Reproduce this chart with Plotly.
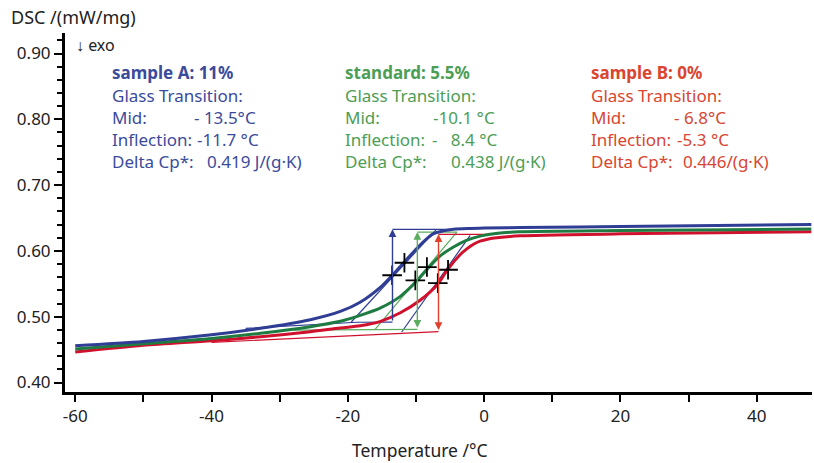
import plotly.graph_objects as go

# ---------------- data ----------------
temp_A = [-60, -50, -40, -32.8, -25.5, -21.1, -18.2, -15.2, -13.5, -11.3, -9.4, -7.5, -6.0, -4.5, -2.0, 0, 5.3, 20, 48]
dsc_A = [0.456, 0.4625, 0.4725, 0.4824, 0.4955, 0.508, 0.522, 0.545, 0.563, 0.588, 0.609, 0.626, 0.6305, 0.633, 0.6342, 0.6348, 0.6355, 0.637, 0.640]

temp_S = [-60, -50, -40, -32.8, -25.5, -21.1, -18.2, -15.2, -12.3, -9.8, -8.3, -6.45, -4.5, -2.6, -0.6, 2.0, 5.3, 20, 48]
dsc_S = [0.451, 0.459, 0.467, 0.4748, 0.4848, 0.493, 0.502, 0.5135, 0.531, 0.5553, 0.573, 0.5925, 0.606, 0.616, 0.6225, 0.627, 0.629, 0.631, 0.6333]

temp_B = [-60, -50, -40, -32.8, -25.5, -21.1, -18.2, -15.2, -12.3, -9.4, -6.7, -5.4, -3.5, -2.5, -1.5, -0.5, 0.5, 1.5, 3.0, 5.3, 20, 48]
dsc_B = [0.4464, 0.4565, 0.4635, 0.4696, 0.4772, 0.483, 0.4862, 0.493, 0.506, 0.525, 0.551, 0.5714, 0.5945, 0.6035, 0.6105, 0.6152, 0.6178, 0.6195, 0.6212, 0.623, 0.626, 0.629]

# characteristic points (mid, inflection)
mark_T_A = [-13.5, -11.7]
mark_v_A = [0.563, 0.582]
mark_T_S = [-10.1, -8.4]
mark_v_S = [0.5553, 0.5755]
mark_T_B = [-6.8, -5.3]
mark_v_B = [0.551, 0.5714]

# evaluation construction lines
A_upper_T = [-13.45, -3.0]
A_upper_v = [0.6328, 0.6328]
A_lower_T = [-35.0, -18.7, -13.45]
A_lower_v = [0.4824, 0.4916, 0.4919]
A_tan_T = [-19.5, -7.0]
A_tan_v = [0.492, 0.6328]
A_tan2_T = [-12.1, -2.05]
A_tan2_v = [0.4768, 0.6237]
A_step_T = -13.45
A_step_v = [0.4919, 0.6328]

S_upper_T = [-9.8, -4.0]
S_upper_v = [0.6287, 0.6287]
S_lower_T = [-28.0, -9.8]
S_lower_v = [0.4795, 0.4809]
S_tan_T = [-16.0, -4.0]
S_tan_v = [0.4809, 0.6287]
S_step_T = -9.8
S_step_v = [0.4809, 0.6287]

B_upper_T = [-6.7, 2.0]
B_upper_v = [0.6252, 0.6252]
B_lower_T = [-40.0, -6.7]
B_lower_v = [0.461, 0.4775]
B_step_T = -6.7
B_step_v = [0.4775, 0.6252]

x_ticks = [-60, -40, -20, 0, 20, 40]
y_ticks = [0.40, 0.50, 0.60, 0.70, 0.80, 0.90]

# ---------------- styles ----------------
C_A = "#2f3e94"
C_S = "#1e7c42"
C_B = "#d0112e"
T_A = "#3b4b9c"
T_S = "#4c9e55"
T_B = "#d9452f"
L_S = "#5aac5e"
L_B = "#e0402c"
FONT = "Noto Sans"

fig = go.Figure()

def thin(xs, ys, color, w=1.2):
    fig.add_trace(go.Scatter(x=xs, y=ys, mode="lines", line=dict(color=color, width=w),
                             hoverinfo="skip", showlegend=False))

# construction lines
thin(A_upper_T, A_upper_v, C_A)
thin(A_lower_T, A_lower_v, C_A)
thin(A_tan_T, A_tan_v, C_A)
thin(A_tan2_T, A_tan2_v, C_A)
thin(S_upper_T, S_upper_v, L_S)
thin(S_lower_T, S_lower_v, L_S)
thin(S_tan_T, S_tan_v, L_S)
thin(B_upper_T, B_upper_v, C_B)
thin(B_lower_T, B_lower_v, C_B)

# curves
for xs, ys, c in [(temp_B, dsc_B, C_B), (temp_S, dsc_S, C_S), (temp_A, dsc_A, C_A)]:
    fig.add_trace(go.Scatter(x=xs, y=ys, mode="lines",
                             line=dict(color=c, width=3, shape="spline", smoothing=0.8),
                             showlegend=False))

# crosses
fig.add_trace(go.Scatter(x=mark_T_A + mark_T_S + mark_T_B, y=mark_v_A + mark_v_S + mark_v_B,
                         mode="markers",
                         marker=dict(symbol="cross-thin", size=14, line=dict(color="black", width=1.8)),
                         showlegend=False))

# step arrows
arrows = [
    (A_step_T, A_step_v, C_A, "end"),
    (S_step_T, S_step_v, L_S, "end+start"),
    (B_step_T, B_step_v, L_B, "end+start"),
]
for t, (lo, hi), c, side in arrows:
    fig.add_annotation(x=t, y=hi, ax=t, ay=lo, xref="x", yref="y", axref="x", ayref="y",
                       text="", showarrow=True, arrowhead=2, arrowsize=1.1, arrowwidth=1.4,
                       arrowcolor=c, arrowside=side, standoff=0, startstandoff=0)

# text blocks (pixel positions converted to paper)
W, H = 814, 463
L, R, T, B = 65, 2, 33, 71
def px(xp):
    return (xp - L) / (W - L - R)
def py(yp):
    return 1 - (yp - T) / (H - T - B)

def txt(xp, yp, s, color, size=17, bold=False):
    fig.add_annotation(x=px(xp), y=py(yp), xref="paper", yref="paper", text=("<b>%s</b>" % s) if bold else s,
                       showarrow=False, xanchor="left", yanchor="middle",
                       font=dict(family=FONT, size=size, color=color))

rows = [72, 95, 117.5, 139, 161.5]
blocks = [
    (110, T_A, "sample A: 11%", [("Mid:", 192, "- 13.5°C"), ("Inflection:", 195, "-11.7 °C"), ("Delta Cp*:", 205, "0.419 J/(g·K)")]),
    (343, T_S, "standard: 5.5%", [("Mid:", 431, "-10.1 °C"), ("Inflection:", 430, "-   8.4 °C"), ("Delta Cp*:", 449, "0.438 J/(g·K)")]),
    (589, T_B, "sample B: 0%", [("Mid:", 672, "- 6.8°C"), ("Inflection:", 675, "-5.3 °C"), ("Delta Cp*:", 681, "0.446/(g·K)")]),
]
for x0, col, title, items in blocks:
    txt(x0, rows[0], title, col, bold=True)
    txt(x0, rows[1], "Glass Transition:", col)
    for i, (lab, xv, val) in enumerate(items):
        txt(x0, rows[2 + i], lab, col)
        txt(xv, rows[2 + i], val, col)

txt(74, 45, "↓ exo", "#222222", size=16)
fig.add_annotation(x=px(9), y=py(17), xref="paper", yref="paper", text="DSC /(mW/mg)", showarrow=False,
                   xanchor="left", yanchor="middle", font=dict(family=FONT, size=18, color="#222222"))
fig.add_annotation(x=px(420), y=py(450), xref="paper", yref="paper", text="Temperature /°C", showarrow=False,
                   xanchor="center", yanchor="middle", font=dict(family=FONT, size=17.5, color="#222222"))

fig.update_layout(
    width=W, height=H, margin=dict(l=L, r=R, t=T, b=B),
    paper_bgcolor="white", plot_bgcolor="white", showlegend=False,
    font=dict(family=FONT, size=16, color="#222222"),
    xaxis=dict(range=[-61.5, 48.1], showgrid=False, zeroline=False, showline=True, linecolor="black",
               linewidth=3, ticks="outside", ticklen=7, tickwidth=2, tickcolor="black",
               tickvals=x_ticks, ticktext=[str(v) for v in x_ticks],
               minor=dict(dtick=10, tick0=0, ticks="outside", ticklen=7, tickwidth=2, tickcolor="black"),
               tickfont=dict(size=17)),
    yaxis=dict(range=[0.3856, 0.9312], showgrid=False, zeroline=False, showline=True, linecolor="black",
               linewidth=3, ticks="outside", ticklen=8, tickwidth=2, tickcolor="black",
               tickvals=y_ticks, ticktext=["%.2f" % v for v in y_ticks],
               minor=dict(dtick=0.02, tick0=0.40, ticks="outside", ticklen=5, tickwidth=2, tickcolor="black"),
               tickfont=dict(size=17)),
)

fig.write_html("out.html", config={"displayModeBar": False},
               post_script="document.body.style.margin='0';document.body.style.overflow='hidden';")
